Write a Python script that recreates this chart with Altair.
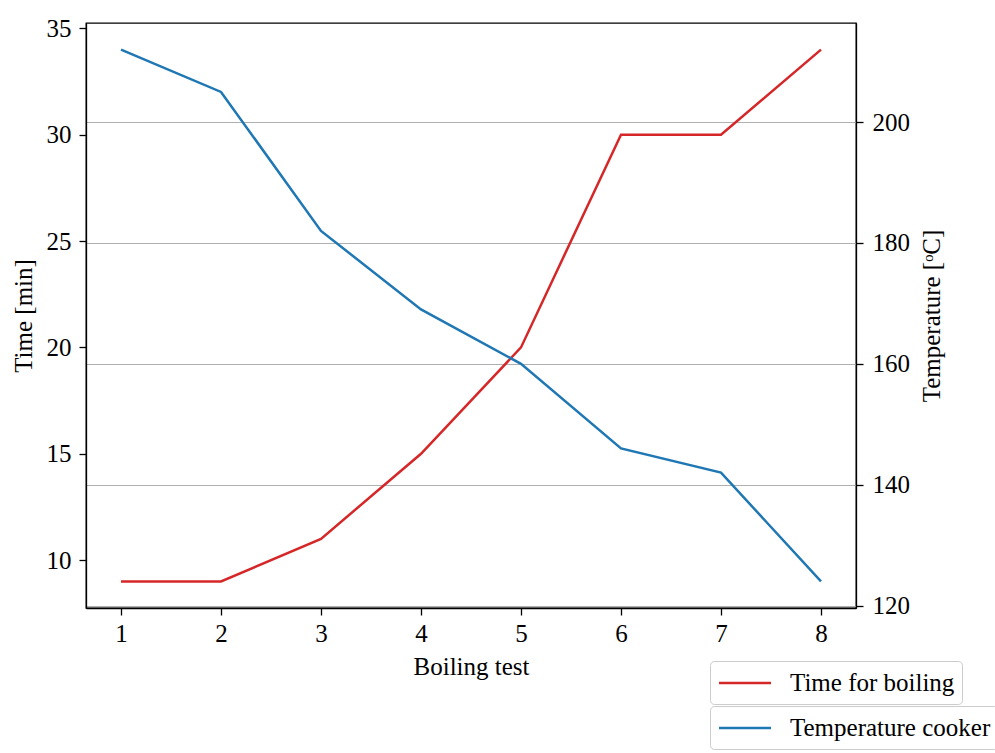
import altair as alt
import pandas as pd

# Boiling test results
tests = [1, 2, 3, 4, 5, 6, 7, 8]
time_min = [9, 9, 11, 15, 20, 30, 30, 34]
temp_c = [212, 205, 182, 169, 160, 146, 142, 124]

FONT = "Liberation Serif"
FS = 25

df = pd.DataFrame({
    "test": tests,
    "time": time_min,
    "temp": temp_c,
    "s_time": ["Time for boiling"] * len(tests),
    "s_temp": ["Temperature cooker"] * len(tests),
})

x_enc = alt.X(
    "test:Q",
    scale=alt.Scale(domain=[0.65, 8.35], nice=False, zero=False),
    axis=alt.Axis(title="Boiling test", values=tests, grid=False, format="d",
                  labelPadding=6, titlePadding=8),
)

# short horizontal stroke used as the legend swatch
LEGEND_STROKE = "M-1,0H3"

legend_common = dict(
    title=None, orient="none", legendX=624, fillColor="white",
    strokeColor="#cccccc", cornerRadius=4, padding=7.5,
    symbolType=LEGEND_STROKE, symbolSize=676, symbolStrokeWidth=2.5,
    labelFont=FONT, labelFontSize=FS, labelOffset=43.5, labelColor="black",
    labelLimit=400,
)

time_line = alt.Chart(df).mark_line(strokeWidth=2.5).encode(
    x=x_enc,
    y=alt.Y(
        "time:Q",
        scale=alt.Scale(domain=[7.75, 35.25], nice=False, zero=False),
        axis=alt.Axis(title="Time [min]", values=[10, 15, 20, 25, 30, 35],
                      grid=False, orient="left", labelPadding=8, titlePadding=10),
    ),
    color=alt.Color(
        "s_time:N",
        scale=alt.Scale(domain=["Time for boiling"], range=["#d62728"]),
        legend=alt.Legend(legendY=638, **legend_common),
    ),
)

temp_line = alt.Chart(df).mark_line(strokeWidth=2.5).encode(
    x=x_enc,
    y=alt.Y(
        "temp:Q",
        scale=alt.Scale(domain=[119.6, 216.4], nice=False, zero=False),
        axis=alt.Axis(title="Temperature [ᵒC]", values=[120, 140, 160, 180, 200],
                      grid=True, gridColor="#b0b0b0", gridWidth=1.2,
                      orient="right", labelPadding=9, titlePadding=10,
                      titleAngle=270, titleBaseline="top"),
    ),
    color=alt.Color(
        "s_temp:N",
        scale=alt.Scale(domain=["Temperature cooker"], range=["#1f77b4"]),
        legend=alt.Legend(legendY=683, **legend_common),
    ),
)

chart = (
    alt.layer(time_line, temp_line)
    .resolve_scale(y="independent", color="independent")
    .resolve_legend(color="independent")
    .properties(
        width=770, height=585,
        autosize=alt.AutoSizeParams(type="none"),
        padding={"left": 86, "top": 23, "right": 139, "bottom": 145},
        background="white",
    )
    .configure_view(stroke="black", strokeWidth=1.3)
    .configure_axis(
        labelFont=FONT, labelFontSize=FS, labelColor="black",
        titleFont=FONT, titleFontSize=FS, titleFontWeight="normal", titleColor="black",
        domainColor="black", domainWidth=1.3, tickColor="black", tickWidth=1.3,
        tickSize=7,
    )
)

chart.save("out.html", embed_options={"renderer": "svg", "actions": False})
